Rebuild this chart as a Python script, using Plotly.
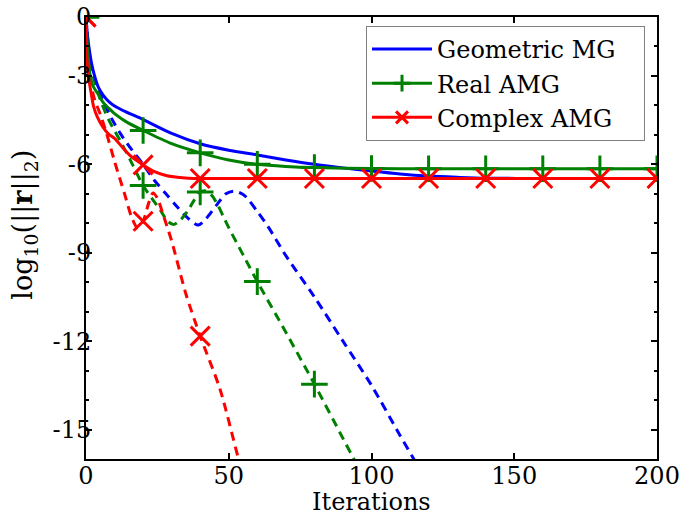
import plotly.graph_objects as go

# ---------------- data ----------------
# Solid curves
gmg_x = [0, 0.5, 1, 2, 3, 4.4, 6, 8, 10, 14, 20, 30, 40, 50, 60, 70, 80, 90, 100, 110, 120, 130, 140, 160, 180, 200]
gmg_y = [-1, -1.6, -2.0, -2.6, -3.0, -3.4, -3.65, -3.87, -4.02, -4.22, -4.48, -4.95, -5.3, -5.52, -5.68, -5.85, -6.0, -6.12,
         -6.23, -6.33, -6.4, -6.44, -6.47, -6.48, -6.48, -6.48]

ramg_x = [0, 0.5, 1, 1.5, 2.5, 4.4, 6, 8, 10, 14, 20, 30, 40, 50, 60, 70, 80, 100, 120, 140, 160, 180, 200]
ramg_y = [-1, -2.0, -2.6, -3.0, -3.35, -3.64, -3.9, -4.1, -4.28, -4.55, -4.85, -5.3, -5.61, -5.85, -6.0, -6.07, -6.11,
          -6.14, -6.15, -6.15, -6.15, -6.15, -6.15]

camg_x = [0, 0.35, 1, 2, 2.7, 4, 6, 8, 10, 13, 16, 20, 24, 28, 32, 36, 40, 60, 80, 100, 120, 140, 160, 180, 200]
camg_y = [-1, -2.5, -3.1, -3.7, -4.05, -4.4, -4.75, -4.98, -5.12, -5.45, -5.75, -6.02, -6.25, -6.38, -6.44, -6.47, -6.48,
          -6.48, -6.48, -6.48, -6.48, -6.48, -6.48, -6.48, -6.48]

# Dashed curves
gmg2_x = [0, 1, 2, 3.5, 6, 9, 12, 16, 20, 24, 28, 32, 36, 39.3, 42, 46, 49, 51.6, 54, 56, 60, 64, 70, 80, 90, 100, 110, 116]
gmg2_y = [-1, -2.2, -2.75, -3.25, -3.85, -4.45, -4.95, -5.5, -6.0, -6.55, -7.0, -7.45, -7.85, -8.06, -7.85, -7.35, -7.0,
          -6.91, -6.97, -7.1, -7.6, -8.15, -9.1, -10.5, -12.0, -13.5, -15.2, -16.2]

ramg2_x = [0, 1, 2.5, 5, 8, 12, 16, 20, 23, 26, 28.5, 30.6, 33, 35.5, 38, 40, 42, 44, 46, 48, 50, 53, 56, 60, 70, 80, 90, 96]
ramg2_y = [-1, -2.3, -3.0, -3.8, -4.5, -5.2, -5.95, -6.72, -7.15, -7.55, -7.92, -8.04, -7.9, -7.6, -7.2, -6.94, -6.9,
           -7.05, -7.35, -7.75, -8.15, -8.7, -9.25, -9.98, -11.7, -13.46, -15.3, -16.4]

camg2_x = [0, 0.7, 1.4, 3, 5, 7.2, 10, 13.5, 16, 18, 20, 22, 23.5, 25, 27, 30, 35, 40, 47, 53.3, 56]
camg2_y = [-1, -2.4, -3.1, -3.8, -4.3, -4.95, -5.9, -7.0, -7.8, -8.15, -7.93, -7.3, -6.97, -7.15, -7.7, -8.6, -10.4,
           -11.83, -13.65, -15.95, -16.8]

x_ticks = [0, 50, 100, 150, 200]
y_ticks = [-1, -3, -6, -9, -12, -15]
y_tick_labels = ["0", "-3", "-6", "-9", "-12", "-15"]
y_minor = [-2, -4, -5, -7, -8, -10, -11, -13, -14]

MARK_EVERY = 20
BLUE, GREEN, RED = "#0000ff", "#008000", "#ff0000"
FONT = "DejaVu Serif"
DASH = "9px,6px"
PAD = "\u00a0\u00a0\u00a0"


def marked(xs, ys):
    pts = [(x, y) for x, y in zip(xs, ys) if x % MARK_EVERY == 0]
    return [p[0] for p in pts], [p[1] for p in pts]


fig = go.Figure()

# dashed curves (no legend)
fig.add_trace(go.Scatter(x=gmg2_x, y=gmg2_y, mode="lines", showlegend=False,
                         line=dict(color=BLUE, width=3, dash=DASH, shape="spline", smoothing=0.8)))
for xs, ys, col, sym in [(ramg2_x, ramg2_y, GREEN, "cross-thin"), (camg2_x, camg2_y, RED, "x-thin")]:
    fig.add_trace(go.Scatter(x=xs, y=ys, mode="lines", showlegend=False,
                             line=dict(color=col, width=3, dash=DASH, shape="spline", smoothing=0.8)))
    mx, my = marked(xs, ys)
    fig.add_trace(go.Scatter(x=mx, y=my, mode="markers", showlegend=False,
                             marker=dict(symbol=sym, size=19, line=dict(color=col, width=3))))

# solid curves
fig.add_trace(go.Scatter(x=gmg_x, y=gmg_y, mode="lines", name="Geometric MG" + PAD,
                         line=dict(color=BLUE, width=3, shape="spline", smoothing=0.8)))
for xs, ys, col, sym, name in [(ramg_x, ramg_y, GREEN, "cross-thin", "Real AMG"),
                               (camg_x, camg_y, RED, "x-thin", "Complex AMG")]:
    mx, my = marked(xs, ys)
    fig.add_trace(go.Scatter(x=xs, y=ys, mode="lines", showlegend=False, legendgroup=name,
                             line=dict(color=col, width=3, shape="spline", smoothing=0.8)))
    fig.add_trace(go.Scatter(x=mx, y=my, mode="markers", showlegend=False, legendgroup=name,
                             marker=dict(symbol=sym, size=19, line=dict(color=col, width=3))))
    # legend entry
    fig.add_trace(go.Scatter(x=[None], y=[None], mode="lines+markers", name=name, legendgroup=name,
                             line=dict(color=col, width=3),
                             marker=dict(symbol=sym, size=12, line=dict(color=col, width=3))))

axis_common = dict(showline=True, linecolor="black", linewidth=2, mirror="ticks", ticks="inside",
                   tickcolor="black", tickwidth=2, ticklen=6, showgrid=False, zeroline=False,
                   automargin=False, ticklabeloverflow="allow",
                   tickfont=dict(family=FONT, size=24, color="black"))

fig.update_xaxes(range=[0, 200], tickvals=x_ticks, ticktext=[str(v) for v in x_ticks],
                 ticklabelstandoff=-6, **axis_common)
fig.update_yaxes(range=[-16, -1], tickvals=y_ticks, ticktext=y_tick_labels, ticklabelstandoff=-12,
                 minor=dict(tickvals=y_minor, ticks="inside", ticklen=3, tickcolor="black", tickwidth=2),
                 **axis_common)

# plot area: 571 x 442 px
fig.add_annotation(text="Iterations", xref="paper", yref="paper", x=0.5, y=-0.098,
                   xanchor="center", yanchor="middle", showarrow=False,
                   font=dict(family=FONT, size=24, color="black"))
fig.add_annotation(text="log<sub>10</sub>(||<b>r</b>||<sub>2</sub>)", xref="paper", yref="paper",
                   x=-0.107, y=0.53, xanchor="center", yanchor="middle", textangle=-90, showarrow=False,
                   font=dict(family=FONT, size=27, color="black"))

fig.update_layout(
    width=679, height=515,
    margin=dict(l=86, r=22, t=17, b=56),
    plot_bgcolor="white", paper_bgcolor="white",
    font=dict(family=FONT, size=24, color="black"),
    legend=dict(x=0.979, y=0.98, xanchor="right", yanchor="top", bgcolor="white",
                bordercolor="#808080", borderwidth=1, font=dict(family=FONT, size=24, color="black"),
                itemwidth=60, tracegroupgap=0),
)

fig.write_html("out.html", config={"displayModeBar": False},
               post_script="document.body.style.margin='0';")
